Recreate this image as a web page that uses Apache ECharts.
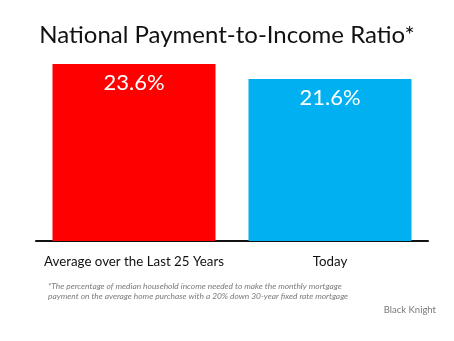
<!DOCTYPE html>
<html>
<head>
<meta charset="utf-8">
<script src="https://cdn.jsdelivr.net/npm/echarts@6/dist/echarts.min.js"></script>
<style>
  html, body { margin: 0; padding: 0; background: #fff; }
  #chart { width: 454px; height: 341px; }
</style>
</head>
<body>
<div id="chart"></div>
<script>
const categories = ['Average over the Last 25 Years', 'Today'];
const ratios = [23.6, 21.6];
const barColors = ['#ff0000', '#00b0f0'];
const titleText = 'National Payment-to-Income Ratio*';
const footnoteLines = [
  '*The percentage of median household income needed to make the monthly mortgage',
  'payment on the average home purchase with a 20% down 30-year fixed rate mortgage'
];
const sourceText = 'Black Knight';

const FONT = 'Lato, "Open Sans", sans-serif';
const chart = echarts.init(document.getElementById('chart'));

chart.setOption({
  backgroundColor: '#fff',
  animation: false,
  title: {
    text: titleText,
    left: 'center',
    top: 18,
    textStyle: { fontFamily: FONT, fontSize: 24, fontWeight: 'normal', color: '#111' }
  },
  grid: { left: 36, right: 26, top: 64, height: 177 },
  xAxis: {
    type: 'category',
    data: categories,
    axisLine: { lineStyle: { color: '#111', width: 2 } },
    axisTick: { show: false },
    axisLabel: { interval: 0, fontFamily: FONT, fontSize: 13.3, color: '#111', margin: 14 }
  },
  yAxis: {
    type: 'value',
    min: 0,
    max: 23.6,
    show: false,
    splitLine: { show: false }
  },
  series: [{
    type: 'bar',
    barWidth: 163,
    data: ratios.map((v, i) => ({ value: v, itemStyle: { color: barColors[i] } })),
    label: {
      show: true,
      position: 'insideTop',
      distance: 8,
      formatter: p => p.value.toFixed(1) + '%',
      fontFamily: FONT,
      fontSize: 22,
      color: '#fff'
    }
  }],
  graphic: [
    {
      type: 'text', left: 48, top: 281,
      style: {
        text: footnoteLines.join('\n'),
        fontFamily: FONT, fontSize: 8.4, fontStyle: 'italic',
        fill: '#7a7a7a', lineHeight: 10.5
      }
    },
    {
      type: 'text', right: 18, top: 305,
      style: { text: sourceText, fontFamily: FONT, fontSize: 9.5, fill: '#7a7a7a' }
    }
  ]
});
</script>
</body>
</html>
